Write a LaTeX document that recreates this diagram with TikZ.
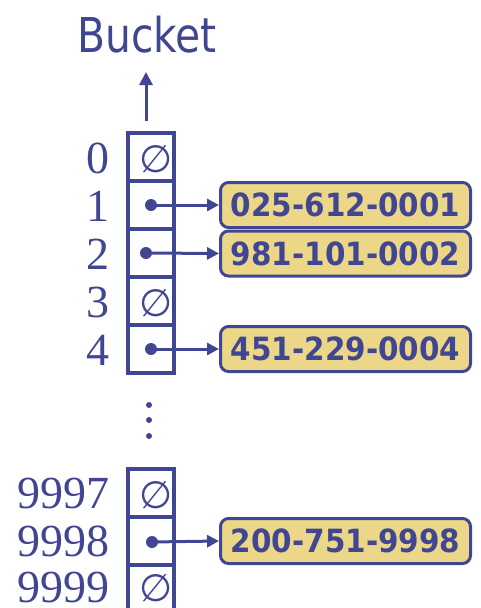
\documentclass[tikz,border=0pt]{standalone}
\usepackage{fontspec}
\setmainfont{Liberation Serif}
\newfontfamily\tah[FakeStretch=0.85]{DejaVu Sans}
\newfontfamily\dvs{DejaVu Sans}
\newfontfamily\dvsb[FakeStretch=0.92]{DejaVu Sans Bold}
\usetikzlibrary{arrows.meta}
\definecolor{navy}{RGB}{64,70,145}
\definecolor{gold}{RGB}{235,215,135}
\begin{document}
\begin{tikzpicture}[x=1pt,y=-1pt,
  cell/.style={draw=navy, line width=3.5pt, minimum width=46pt, minimum height=48pt, inner sep=0pt},
  idx/.style={anchor=east, inner sep=0pt, text=navy, font=\fontsize{46}{46}\selectfont},
  rec/.style={draw=navy, fill=gold, line width=3pt, rounded corners=8pt, minimum width=250pt, minimum height=45pt, anchor=west, inner sep=0pt, text=navy, font=\dvsb\fontsize{32}{32}\selectfont},
  dotn/.style={circle, fill=navy, inner sep=0pt, minimum size=12pt},
  link/.style={navy, line width=3pt, -{Triangle[length=12pt,width=12pt]}},
  emptyset/.style={text=navy, font=\dvs\fontsize{38}{38}\selectfont, inner sep=0pt},
  smalldot/.style={circle, fill=navy, inner sep=0pt, minimum size=6pt}
]
\useasboundingbox (0,0) rectangle (480,608);

% title and arrow
\node[text=navy, font=\tah\fontsize{48}{48}\selectfont, inner sep=0pt, anchor=base] (title) at (147,52) {Bucket};
\coordinate (arrowbase) at (146,121);
\coordinate (arrowtip) at (146,72);
\draw[navy, line width=3pt, -{Triangle[length=13pt,width=13pt]}] (arrowbase) -- (arrowtip);

% upper cells
\node[cell] (c0) at (151,157) {};
\node[cell] (c1) at (151,205) {};
\node[cell] (c2) at (151,253) {};
\node[cell] (c3) at (151,301) {};
\node[cell] (c4) at (151,349) {};
% lower cells
\node[cell] (c9997) at (151,493) {};
\node[cell] (c9998) at (151,541) {};
\node[cell] (c9999) at (151,589) {};

% index labels
\node[idx] (l0) at (110,158) {0};
\node[idx] (l1) at (110,206) {1};
\node[idx] (l2) at (110,254) {2};
\node[idx] (l3) at (110,302) {3};
\node[idx] (l4) at (110,350) {4};
\node[idx] (l9997) at (110,493) {9997};
\node[idx] (l9998) at (110,541) {9998};
\node[idx] (l9999) at (110,587) {9999};

% empty markers
\node[emptyset] (e0) at (156,159) {∅};
\node[emptyset] (e3) at (156,303) {∅};
\node[emptyset] (e9997) at (156,495) {∅};
\node[emptyset] (e9999) at (156,588) {∅};

% vertical ellipsis
\node[smalldot] (v1) at (149,405) {};
\node[smalldot] (v2) at (149,420) {};
\node[smalldot] (v3) at (149,436) {};

% entries
\node[rec] (r1) at (219,205) {025-612-0001};
\node[rec] (r2) at (219,253.5) {981-101-0002};
\node[rec] (r4) at (219,349) {451-229-0004};
\node[rec] (r9998) at (219,541) {200-751-9998};

% pointers
\node[dotn] (d1) at (151,205) {};
\node[dotn] (d2) at (146,253) {};
\node[dotn] (d4) at (151,349) {};
\node[dotn] (d9998) at (152,542) {};
\draw[link] (d1.center) -- (r1.west);
\draw[link] (d2.center) -- (r2.west);
\draw[link] (d4.center) -- (r4.west);
\draw[link] (d9998.center) -- (r9998.west);
\end{tikzpicture}
\end{document}
